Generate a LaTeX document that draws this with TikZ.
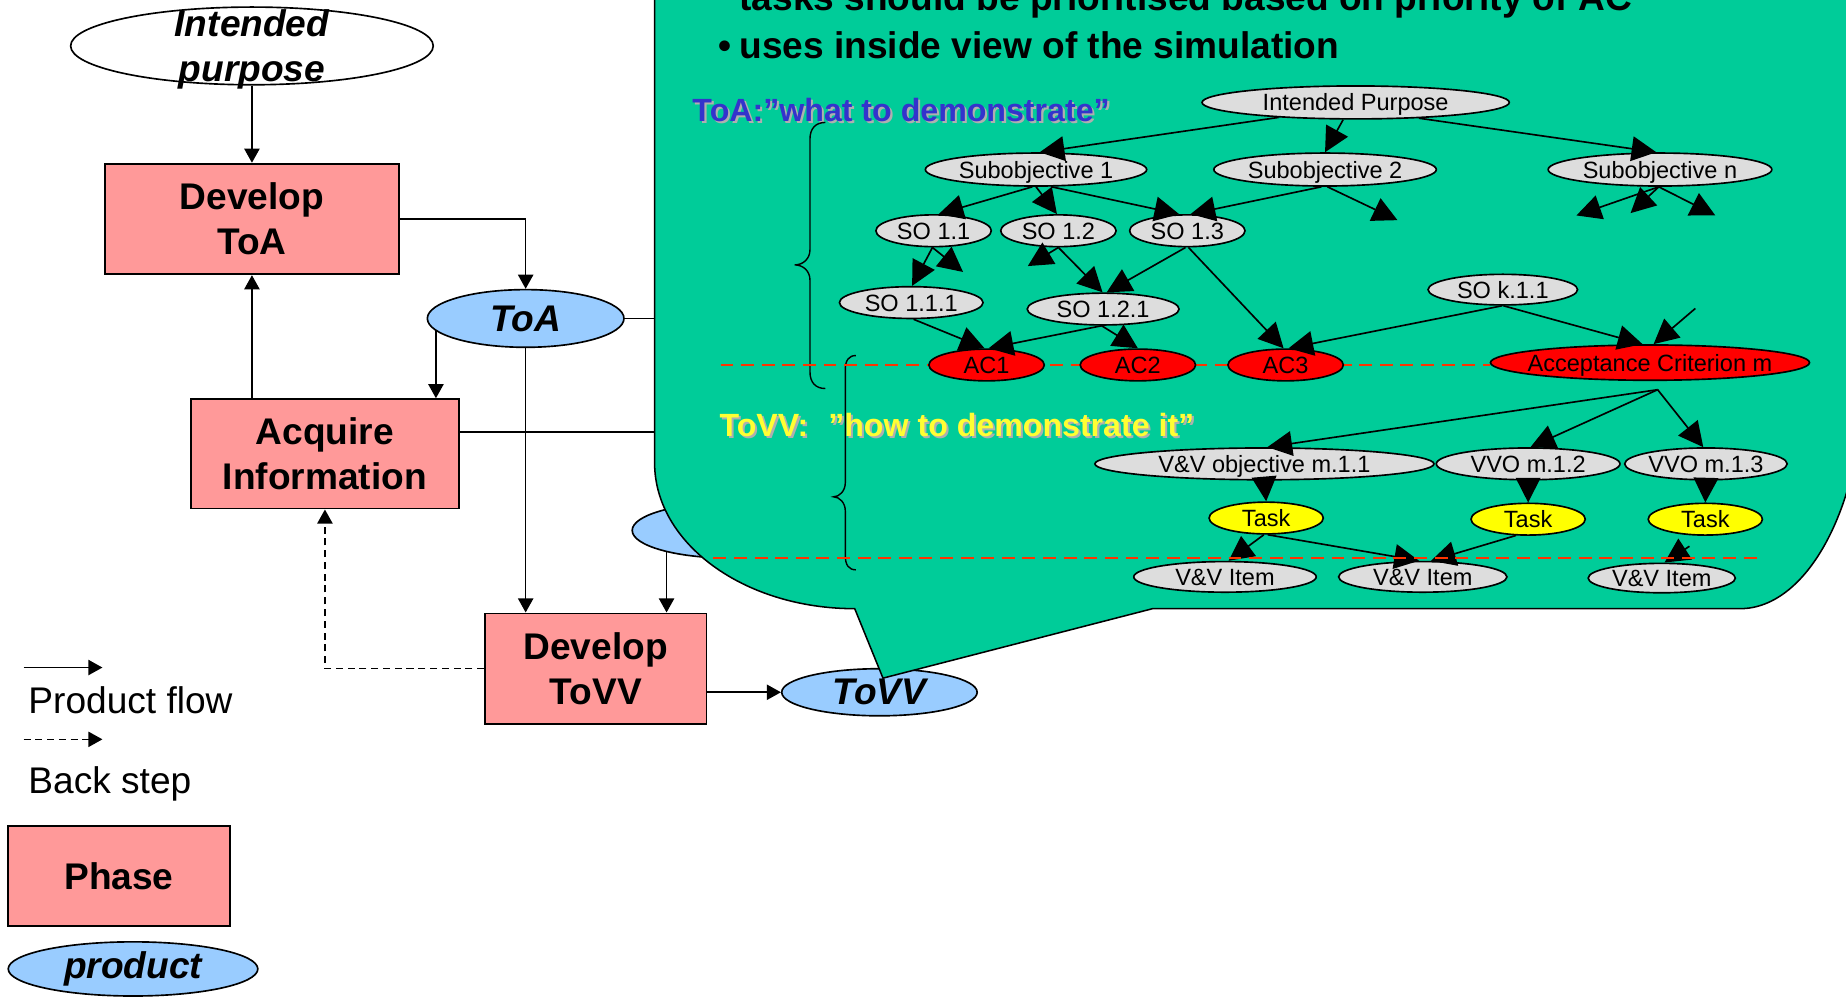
\documentclass[tikz,border=0pt]{standalone}
\usepackage{fontspec}
\setmainfont{Liberation Sans}
\usetikzlibrary{arrows.meta,shapes.geometric}

\definecolor{calloutgreen}{RGB}{0,204,153}
\definecolor{phasepink}{RGB}{255,153,153}
\definecolor{prodblue}{RGB}{153,204,255}
\definecolor{gfill}{RGB}{221,221,221}
\definecolor{acred}{RGB}{255,0,0}
\definecolor{taskyellow}{RGB}{255,255,0}
\definecolor{toablue}{RGB}{51,51,204}
\definecolor{tovvyellow}{RGB}{255,255,51}
\definecolor{sepred}{RGB}{255,51,0}
\definecolor{shadowgray}{RGB}{175,175,175}

% graph labels take no width, so the ellipse size is set by minimum width/height only
\newcommand{\gtxt}[1]{\makebox[0pt]{#1}}

\begin{document}
\begin{tikzpicture}[x=1pt, y=-1pt,
  pf/.style={line width=1.3pt, -{Triangle[length=12pt,width=13pt]}},
  bs/.style={pf, dash pattern=on 6pt off 4pt},
  phasebox/.style={rectangle, draw, line width=1.5pt, fill=phasepink, inner sep=0pt, align=center,
                   font=\fontsize{31.5pt}{38pt}\selectfont\bfseries},
  prodell/.style={ellipse, draw, line width=1.4pt, fill=prodblue, inner sep=0pt,
                  font=\fontsize{31.5pt}{38pt}\selectfont\bfseries\itshape},
  gnode/.style={ellipse, draw, line width=1.4pt, fill=gfill, inner sep=0pt,
                text height=14.5pt, text depth=0pt, font=\fontsize{20pt}{24pt}\selectfont},
  acnode/.style={gnode, fill=acred},
  tasknode/.style={gnode, fill=taskyellow},
  ga/.style={line width=1.4pt, -{Triangle[length=21pt,width=21pt]}},
  sepline/.style={sepred, line width=1.6pt, dash pattern=on 11pt off 6.5pt},
  bracepath/.style={line width=1.2pt},
  headfont/.style={font=\fontsize{27.3pt}{32pt}\selectfont\bfseries, inner sep=0pt, anchor=base west},
  bodyfont/.style={font=\fontsize{31.5pt}{38pt}\selectfont\bfseries, inner sep=0pt, anchor=base west},
]
\useasboundingbox (0,0) rectangle (1568,847);
\clip (0,0) rectangle (1568,847);

% ---------------- process chain ----------------
\node[ellipse, draw, line width=1.4pt, fill=white, inner sep=0pt,
      minimum width=308pt, minimum height=66pt,
      label={[font=\fontsize{31.5pt}{38pt}\selectfont\bfseries\itshape, align=center, yshift=-3pt]center:{Intended\\purpose}}]
      (ipur) at (214,39) {};
\node[phasebox, minimum width=250pt, minimum height=94pt] (devtoa) at (214,186) {Develop\\ToA};
\node[prodell, minimum width=167pt, minimum height=49pt] (toa) at (446.5,270.5) {ToA};
\node[phasebox, minimum width=228pt, minimum height=93pt] (acq) at (276,385.5) {Acquire\\Information};
\node[prodell, minimum width=166pt, minimum height=47pt] (hid) at (620,450.5) {};
\node[phasebox, minimum width=188pt, minimum height=94pt] (devtovv) at (506,568) {Develop\\ToVV};
\node[prodell, minimum width=166pt, minimum height=40pt] (tovv) at (747,588) {ToVV};

\coordinate (toaout) at (620,270.5);
\coordinate (acqout) at (620,367);

\draw[pf] (ipur.south) -- (devtoa.north);
\draw[pf] (devtoa.east) -| (toa.north);
\draw[line width=1.3pt] (toa.east) -- (toaout);
\draw[pf] (toa.188) -- (toa.188 |- acq.north);
\draw[pf] (acq.north -| devtoa.south) -- (devtoa.south);
\draw[line width=1.3pt] (acq.east |- acqout) -- (acqout);
\draw[pf] (toa.south) -- (toa.south |- devtovv.north);
\draw[pf] (hid.199) -- (hid.199 |- devtovv.north);
\draw[bs] (devtovv.west) -| (acq.south);
\draw[pf] (devtovv.east |- tovv.west) -- (tovv.west);

% ---------------- legend ----------------
\coordinate (lg1a) at (20,567);
\coordinate (lg1b) at (87,567);
\coordinate (lg2a) at (20,628);
\coordinate (lg2b) at (87,628);
\draw[pf] (lg1a) -- (lg1b);
\draw[bs] (lg2a) -- (lg2b);
\node[anchor=base west, inner sep=0pt, font=\fontsize{31.5pt}{38pt}\selectfont] (lgpf) at (24,606) {Product flow};
\node[anchor=base west, inner sep=0pt, font=\fontsize{31.5pt}{38pt}\selectfont] (lgbs) at (24,674) {Back step};
\node[phasebox, minimum width=189pt, minimum height=85pt] (lgphase) at (101,744) {Phase};
\node[prodell, minimum width=212pt, minimum height=46pt] (lgprod) at (113,823) {product};

% ---------------- callout ----------------
\draw[line width=1.3pt, fill=calloutgreen]
  (556,-30) -- (556,393)
  .. controls (556,461.5) and (632,517) .. (726,517)
  -- (750,576) -- (979,517) -- (1478,517)
  .. controls (1536,517) and (1583,427.5) .. (1583,317)
  -- (1583,-30) -- cycle;

\node[bodyfont] (bltasks) at (628,8.5) {tasks should be prioritised based on priority of AC};
\node[bodyfont] (bldot) at (610,49.5) {•};
\node[bodyfont] (bluses) at (628,49.5) {uses inside view of the simulation};

\node[headfont, text=shadowgray] at (589.8,104.8) {ToA:”what to demonstrate”};
\node[headfont, text=toablue] (toahead) at (588,103) {ToA:”what to demonstrate”};
\node[headfont, text=shadowgray] at (612.8,372.3) {ToVV:\hspace{17pt}”how to demonstrate it”};
\node[headfont, text=tovvyellow] (tovvhead) at (611,370.5) {ToVV:\hspace{17pt}”how to demonstrate it”};

% braces grouping the two trees
\draw[bracepath] (701,104) .. controls (693,104) and (688,109) .. (688,118)
  -- (688,212) .. controls (688,220) and (682,225) .. (675,225)
  .. controls (682,225) and (688,230) .. (688,238)
  -- (688,316) .. controls (688,325) and (693,330) .. (701,330);
\draw[bracepath] (727,302) .. controls (721,302) and (718,306) .. (718,314)
  -- (718,410) .. controls (718,417) and (713,422) .. (708,422)
  .. controls (713,422) and (718,427) .. (718,434)
  -- (718,472) .. controls (718,480) and (721,484) .. (727,484);

% separator between objectives and acceptance criteria
\coordinate (sepAa) at (612,310);
\coordinate (sepAb) at (1266,310);
\draw[sepline] (sepAa) -- (sepAb);

% ---------------- objective tree ----------------
\node[gnode, minimum width=261pt, minimum height=28pt] (ip) at (1151.5,87) {\gtxt{Intended Purpose}};
\node[gnode, minimum width=188pt, minimum height=28pt] (sub1) at (880,144) {\gtxt{Subobjective 1}};
\node[gnode, minimum width=189pt, minimum height=28pt] (sub2) at (1125.5,144) {\gtxt{Subobjective 2}};
\node[gnode, minimum width=190pt, minimum height=28pt] (subn) at (1410,144) {\gtxt{Subobjective n}};
\node[gnode, minimum width=98pt, minimum height=27pt] (so11) at (793,196) {\gtxt{SO 1.1}};
\node[gnode, minimum width=98pt, minimum height=27pt] (so12) at (899,196) {\gtxt{SO 1.2}};
\node[gnode, minimum width=98pt, minimum height=27pt] (so13) at (1008.5,196) {\gtxt{SO 1.3}};
\node[gnode, minimum width=122pt, minimum height=27pt] (so111) at (774,257) {\gtxt{SO 1.1.1}};
\node[gnode, minimum width=129pt, minimum height=27pt] (so121) at (937,262.5) {\gtxt{SO 1.2.1}};
\node[gnode, minimum width=127pt, minimum height=26pt] (sok11) at (1276.5,246) {\gtxt{SO k.1.1}};
\node[acnode, minimum width=98pt, minimum height=27pt] (ac1) at (838,310) {\gtxt{AC1}};
\node[acnode, minimum width=98pt, minimum height=27pt] (ac2) at (966.5,310) {\gtxt{AC2}};
\node[acnode, minimum width=98pt, minimum height=27pt] (ac3) at (1092,310) {\gtxt{AC3}};
\node[acnode, minimum width=271pt, minimum height=30pt] (acm) at (1401.5,308) {\gtxt{Acceptance Criterion m}};

% ---------------- V&V tree ----------------
\node[gnode, minimum width=288pt, minimum height=27pt] (vvo1) at (1074,394) {\gtxt{V\&V objective m.1.1}};
\node[gnode, minimum width=156pt, minimum height=27pt] (vvo2) at (1298,394) {\gtxt{VVO m.1.2}};
\node[gnode, minimum width=138pt, minimum height=27pt] (vvo3) at (1449,394) {\gtxt{VVO m.1.3}};
\node[tasknode, minimum width=97pt, minimum height=27pt] (task1) at (1075.5,440) {\gtxt{Task}};
\node[tasknode, minimum width=97pt, minimum height=27pt] (task2) at (1298,441) {\gtxt{Task}};
\node[tasknode, minimum width=97pt, minimum height=27pt] (task3) at (1448.5,441) {\gtxt{Task}};
\node[gnode, minimum width=155pt, minimum height=26pt] (item1) at (1040.5,490) {\gtxt{V\&V Item}};
\node[gnode, minimum width=143pt, minimum height=26pt] (item2) at (1208.5,490) {\gtxt{V\&V Item}};
\node[gnode, minimum width=125pt, minimum height=25pt] (item3) at (1411.5,491) {\gtxt{V\&V Item}};

% loose edge ends
\coordinate (d1) at (1187,187);
\coordinate (d2) at (1339,183);
\coordinate (d3) at (1385,181);
\coordinate (d4) at (1457,183);
\coordinate (d5) at (818,231);
\coordinate (d6) at (873,226);
\coordinate (d7) at (1440,262);
\coordinate (d8) at (1408,331);
\coordinate (d9) at (1435,464);

% objective tree edges
\draw[ga] (ip.191) -- (sub1.78);
\draw[ga] (ip.234) -- (sub2.north);
\draw[ga] (ip.346) -- (subn.102);
\draw[ga] (sub1.258) -- (so11.73);
\draw[ga] (sub1.270) -- (so12.95);
\draw[ga] (sub1.311) -- (so13.116);
\draw[ga] (sub2.258) -- (so13.79);
\draw[ga] (sub2.278) -- (d1);
\draw[ga] (subn.266) -- (d2);
\draw[ga] (subn.266) -- (d3);
\draw[ga] (subn.266) -- (d4);
\draw[ga] (so11.266) -- (so111.87);
\draw[ga] (so11.266) -- (d5);
\draw[ga] (so12.270) -- (d6);
\draw[ga] (so12.270) -- (so121.92);
\draw[ga] (so13.264) -- (so121.78);
\draw[ga] (so13.274) -- (ac3.97);
\draw[ga] (so111.278) -- (ac1.97);
\draw[ga] (so121.265) -- (ac1.83);
\draw[ga] (so121.265) -- (ac2.north);
\draw[ga] (sok11.268) -- (ac3.80);
\draw[ga] (sok11.272) -- (acm.112);
\draw[ga] (d7) -- (acm.79);

% V&V tree edges
\draw[ga] (d8) -- (vvo1.80);
\draw[ga] (d8) -- (vvo2.82);
\draw[ga] (d8) -- (vvo3.99);
\draw[ga] (vvo1.south) -- (task1.north);
\draw[ga] (vvo2.south) -- (task2.north);
\draw[ga] (vvo3.south) -- (task3.north);
\draw[ga] (task1.262) -- (item1.77);
\draw[ga] (task1.275) -- (item2.103);
\draw[ga] (task2.233) -- (item2.63);
\draw[ga] (d9) -- (item3.80);

% separator between tasks and items
\coordinate (sepBa) at (606,474);
\coordinate (sepBb) at (1494,474);
\draw[sepline] (sepBa) -- (sepBb);

\end{tikzpicture}
\end{document}
